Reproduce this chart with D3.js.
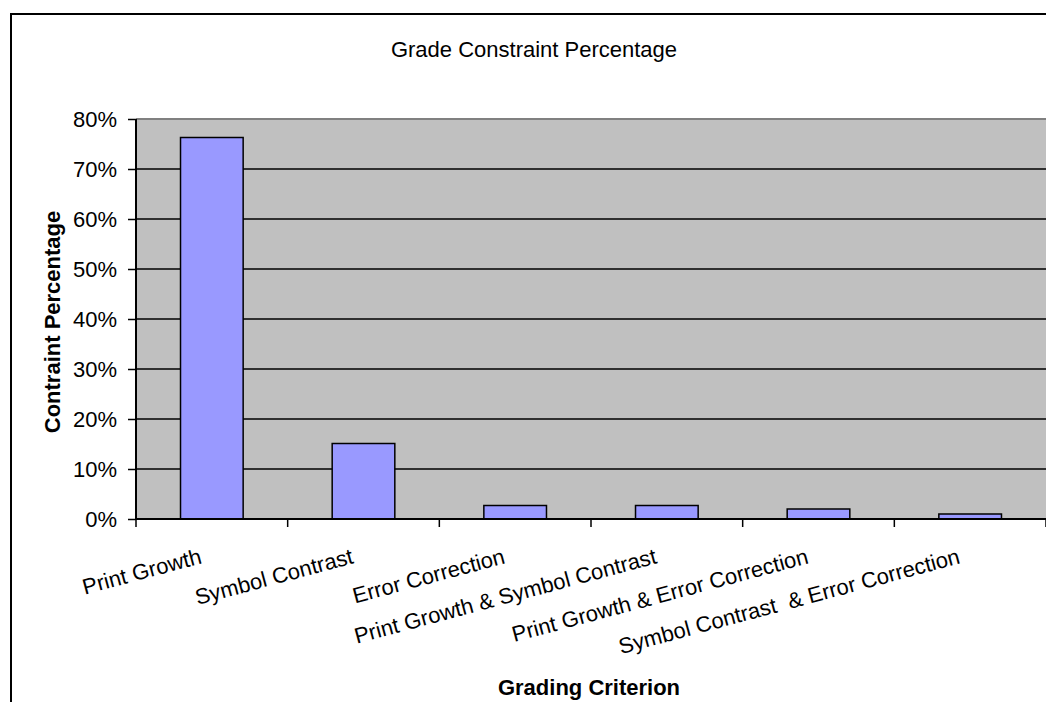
<!DOCTYPE html>
<html>
<head>
<meta charset="utf-8">
<script src="https://cdn.jsdelivr.net/npm/d3@7"></script>
<style>
  html, body { margin: 0; padding: 0; background: #fff; overflow: hidden; }
  svg { display: block; font-family: "Liberation Sans", Arial, sans-serif; }
</style>
</head>
<body>
<svg id="chart" width="1046" height="702"></svg>
<script>
const categories = [
  "Print Growth",
  "Symbol Contrast",
  "Error Correction",
  "Print Growth & Symbol Contrast",
  "Print Growth & Error Correction",
  "Symbol Contrast  & Error Correction"
];
const values = [76.3, 15.1, 2.7, 2.7, 2.0, 1.0];
const yTicks = [0, 10, 20, 30, 40, 50, 60, 70, 80];
const titleText = "Grade Constraint Percentage";
const yTitle = "Contraint Percentage";
const xTitle = "Grading Criterion";

const svg = d3.select("#chart");
const plot = { left: 136, right: 1046, top: 119, bottom: 519 };

const x = d3.scaleBand().domain(categories).range([plot.left, plot.right]).padding(0);
const y = d3.scaleLinear().domain([0, 80]).range([plot.bottom, plot.top]);

// outer chart border
svg.append("path")
  .attr("d", `M11,710 L11,14 L1060,14`)
  .attr("fill", "none").attr("stroke", "#000").attr("stroke-width", 2);

// plot background
svg.append("rect")
  .attr("x", plot.left).attr("y", plot.top)
  .attr("width", plot.right - plot.left + 10).attr("height", plot.bottom - plot.top)
  .attr("fill", "#C0C0C0");

// gridlines
svg.append("g").selectAll("line")
  .data(yTicks.filter(d => d > 0 && d < 80))
  .join("line")
  .attr("x1", plot.left).attr("x2", plot.right + 10)
  .attr("y1", d => y(d)).attr("y2", d => y(d))
  .attr("stroke", "#000").attr("stroke-width", 1.5);

// top border of plot area
svg.append("line")
  .attr("x1", plot.left).attr("x2", plot.right + 10)
  .attr("y1", y(80)).attr("y2", y(80))
  .attr("stroke", "#808080").attr("stroke-width", 2);

// bars
const barW = x.bandwidth() * 0.413;
svg.append("g").selectAll("rect")
  .data(values)
  .join("rect")
  .attr("x", (d, i) => x(categories[i]) + (x.bandwidth() - barW) / 2)
  .attr("y", d => y(d))
  .attr("width", barW)
  .attr("height", d => y(0) - y(d))
  .attr("fill", "#9999FF")
  .attr("stroke", "#000").attr("stroke-width", 1.5);

// y axis
const yAxis = d3.axisLeft(y).tickValues(yTicks).tickSize(8).tickPadding(11)
  .tickFormat(d => d + "%");
const gy = svg.append("g").attr("transform", `translate(${plot.left},0)`).call(yAxis);
gy.select(".domain").attr("stroke", "#000").attr("stroke-width", 2)
  .attr("d", `M-0,${plot.top}V${plot.bottom}`);
gy.selectAll(".tick line").attr("stroke", "#000").attr("stroke-width", 1.5);
gy.selectAll(".tick text").attr("font-size", 22).attr("fill", "#000")
  .attr("font-family", "'Liberation Sans', Arial, sans-serif");

// x axis baseline & ticks at category boundaries
const boundaries = categories.map(c => x(c)).concat([x(categories[categories.length - 1]) + x.bandwidth()]);
svg.append("line")
  .attr("x1", plot.left).attr("x2", plot.right + 10)
  .attr("y1", y(0)).attr("y2", y(0))
  .attr("stroke", "#000").attr("stroke-width", 2);
svg.append("g").selectAll("line")
  .data(boundaries)
  .join("line")
  .attr("x1", d => d).attr("x2", d => d)
  .attr("y1", y(0)).attr("y2", y(0) + 8)
  .attr("stroke", "#000").attr("stroke-width", 1.5);

// x category labels (rotated)
svg.append("g").selectAll("text")
  .data(categories)
  .join("text")
  .attr("transform", d => `translate(${x(d) + x.bandwidth() / 2 - 9},563) rotate(-15)`)
  .attr("text-anchor", "end")
  .attr("font-size", 22)
  .attr("fill", "#000")
  .style("white-space", "pre")
  .text(d => d);

// title
svg.append("text")
  .attr("x", 534).attr("y", 57)
  .attr("text-anchor", "middle")
  .attr("font-size", 22).attr("fill", "#000")
  .text(titleText);

// y axis title
svg.append("text")
  .attr("transform", `translate(60,322) rotate(-90)`)
  .attr("text-anchor", "middle")
  .attr("font-size", 22).attr("font-weight", "bold").attr("fill", "#000")
  .text(yTitle);

// x axis title
svg.append("text")
  .attr("x", 589).attr("y", 695)
  .attr("text-anchor", "middle")
  .attr("font-size", 22).attr("font-weight", "bold").attr("fill", "#000")
  .text(xTitle);
</script>
</body>
</html>
